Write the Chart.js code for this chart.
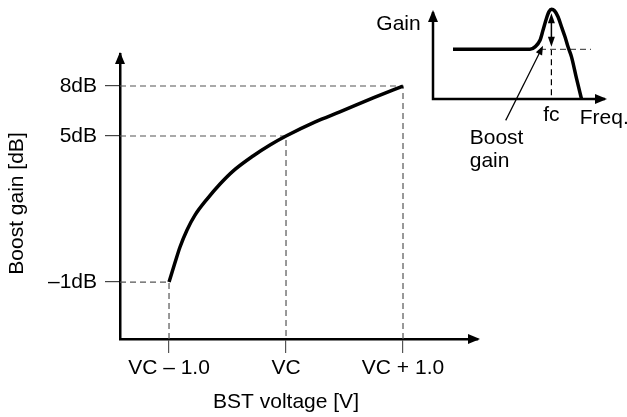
<!DOCTYPE html>
<html>
<head>
<title>Boost gain vs BST voltage</title>
<script src="https://cdn.jsdelivr.net/npm/chart.js"></script>
<style>
    body { margin: 0; background: #fff; }
    #wrap { position: relative; width: 627px; height: 417px; }
    #inset { position: absolute; left: 370px; top: 0; }
</style>
</head>
<body>
<div id="wrap">
    <canvas id="mainChart" width="627" height="417"></canvas>
    <canvas id="inset" width="257" height="180"></canvas>
</div>
<script>
// main curve: BST voltage relative to VC [V] -> boost gain [dB]
var voltage   = [-1, -0.95, -0.906, -0.846, -0.778, -0.675, -0.564, -0.453, -0.282, -0.137, 0, 0.25, 0.46, 0.75, 1];
var boostGain = [-1, -0.22, 0.44, 1.14, 1.75, 2.41, 3.03, 3.56, 4.18, 4.63, 5, 5.85, 6.45, 7.3, 8];
var keyVoltage = [-1, 0, 1];
var keyGain    = [-1, 5, 8];
var xTickLabels = ['VC \u2013 1.0', 'VC', 'VC + 1.0'];
var yTickLabels = ['\u20131dB', '5dB', '8dB'];
var xRange = [-1.419, 1.641];
var yRange = [-3.34, 9.92];

// inset: gain response vs frequency (arbitrary units)
var freq     = [2, 9.7, 10.2, 10.7, 11.0, 11.35, 11.6, 11.85, 12.15, 12.5, 12.85, 13.2, 13.5, 13.85, 14.35, 14.85];
var response = [4.95, 4.95, 5.2, 5.85, 6.85, 8.05, 8.7, 8.95, 8.8, 8.2, 7.2, 6.2, 5.2, 4.2, 2.05, 0];
var fc = 11.84;
var flatGain = 4.95;
var flatGuide = [10.7, 15.8];
var boostSpan = [8.55, 5.2];
var pointer = [[7.27, -2.13], [11.0, 5.3]];
var insetLabels = [
    { text: 'Gain',  x: -1.23, y: 7.47, align: 'right' },
    { text: 'fc',    x: fc,    y: -1.63, align: 'center' },
    { text: 'Freq.', x: 14.67, y: -1.93, align: 'left' },
    { text: 'Boost', x: 3.67,  y: -3.93, align: 'left' },
    { text: 'gain',  x: 3.67,  y: -6.2,  align: 'left' }
];

var FONT = "'Liberation Sans', Arial, Helvetica, sans-serif";
Chart.defaults.font.family = FONT;
Chart.defaults.color = '#000';

// linear scale that is stretched below a knee value (the drawing is not to scale)
class KneeScale extends Chart.LinearScale {
    tv(v) {
        var k = this.options.knee, s = this.options.stretch;
        return v < k ? k - (k - v) * s : v;
    }
    getPixelForValue(v) {
        if (v === null || v === undefined) return NaN;
        var a = this.tv(this.min), b = this.tv(this.max);
        return this.getPixelForDecimal((this.tv(v) - a) / (b - a));
    }
    getValueForPixel(p) {
        var a = this.tv(this.min), b = this.tv(this.max);
        var t = a + this.getDecimalForPixel(p) * (b - a);
        var k = this.options.knee, s = this.options.stretch;
        return t < k ? k - (k - t) / s : t;
    }
}
KneeScale.id = 'knee';
KneeScale.defaults = {};
Chart.register(KneeScale);

function arrowHead(ctx, x, y, angle, len, half) {
    ctx.save();
    ctx.translate(x, y);
    ctx.rotate(angle);
    ctx.beginPath();
    ctx.moveTo(0, 0);
    ctx.lineTo(-len, -half);
    ctx.lineTo(-len, half);
    ctx.closePath();
    ctx.fill();
    ctx.restore();
}

var guideSets = keyVoltage.map(function(v, i) {
    return {
        data: [{ x: xRange[0], y: keyGain[i] }, { x: v, y: keyGain[i] }, { x: v, y: yRange[0] }],
        borderColor: '#555',
        borderWidth: 1.2,
        borderDash: [6, 4],
        pointRadius: 0,
        tension: 0
    };
});

var mainDecor = {
    id: 'mainDecor',
    afterDraw: function(chart) {
        var ctx = chart.ctx, a = chart.chartArea;
        var xs = chart.scales.x;
        ctx.save();
        ctx.fillStyle = '#000';
        arrowHead(ctx, a.left, a.top - 2, -Math.PI / 2, 12, 5);
        arrowHead(ctx, a.right + 2, a.bottom, 0, 12, 5);
        ctx.font = '21px ' + FONT;
        ctx.textAlign = 'center';
        ctx.textBaseline = 'middle';
        ctx.fillText('BST voltage [V]', xs.getPixelForValue(0), 402);
        ctx.translate(17, (a.top + a.bottom) / 2 + 7);
        ctx.rotate(-Math.PI / 2);
        ctx.fillText('Boost gain [dB]', 0, 0);
        ctx.restore();
    }
};

new Chart(document.getElementById('mainChart'), {
    type: 'line',
    data: {
        datasets: [{
            data: voltage.map(function(v, i) { return { x: v, y: boostGain[i] }; }),
            borderColor: '#000',
            borderWidth: 3.5,
            pointRadius: 0,
            cubicInterpolationMode: 'monotone'
        }].concat(guideSets)
    },
    options: {
        responsive: false,
        animation: false,
        events: [],
        layout: { padding: { top: 54, right: 149, bottom: 0, left: 0 } },
        plugins: { legend: { display: false }, tooltip: { enabled: false } },
        scales: {
            x: {
                type: 'linear',
                min: xRange[0],
                max: xRange[1],
                afterFit: function(s) { s.height = 78; },
                afterBuildTicks: function(s) { s.ticks = keyVoltage.map(function(v) { return { value: v }; }); },
                ticks: {
                    callback: function(v, i) { return xTickLabels[i]; },
                    autoSkip: false, maxRotation: 0, padding: 3,
                    color: '#000', font: { size: 21 }
                },
                grid: { drawOnChartArea: false, tickLength: 14, color: '#555', lineWidth: 1.2 },
                border: { color: '#000', width: 2.5 }
            },
            y: {
                type: 'knee',
                knee: 5,
                stretch: 1.46,
                min: yRange[0],
                max: yRange[1],
                afterFit: function(s) { s.width = 120; },
                afterBuildTicks: function(s) { s.ticks = keyGain.map(function(v) { return { value: v }; }); },
                ticks: {
                    callback: function(v, i) { return yTickLabels[i]; },
                    autoSkip: false, padding: 8,
                    color: '#000', font: { size: 21 }
                },
                grid: { drawOnChartArea: false, tickLength: 15, color: '#444', lineWidth: 1.2 },
                border: { color: '#000', width: 2.5 }
            }
        }
    },
    plugins: [mainDecor]
});

// inset chart
var insetDecor = {
    id: 'insetDecor',
    beforeDatasetsDraw: function(chart) {
        var ctx = chart.ctx, a = chart.chartArea;
        ctx.save();
        ctx.strokeStyle = '#000';
        ctx.lineWidth = 2.5;
        ctx.beginPath();
        ctx.moveTo(a.left, a.top + 6);
        ctx.lineTo(a.left, a.bottom);
        ctx.lineTo(a.right, a.bottom);
        ctx.stroke();
        ctx.fillStyle = '#000';
        arrowHead(ctx, a.left, a.top + 4, -Math.PI / 2, 12, 5);
        arrowHead(ctx, a.right + 2, a.bottom, 0, 12, 5);
        ctx.restore();
    },
    afterDraw: function(chart) {
        var ctx = chart.ctx;
        var xs = chart.scales.x, ys = chart.scales.y;
        ctx.save();
        ctx.fillStyle = '#000';
        ctx.strokeStyle = '#000';
        // boost gain double arrow at fc
        var px = xs.getPixelForValue(fc);
        var y1 = ys.getPixelForValue(boostSpan[0]), y2 = ys.getPixelForValue(boostSpan[1]);
        ctx.lineWidth = 1.5;
        ctx.beginPath();
        ctx.moveTo(px, y1 + 8);
        ctx.lineTo(px, y2 - 8);
        ctx.stroke();
        arrowHead(ctx, px, y1, -Math.PI / 2, 10, 3.5);
        arrowHead(ctx, px, y2, Math.PI / 2, 10, 3.5);
        // pointer from label
        var sx = xs.getPixelForValue(pointer[0][0]), sy = ys.getPixelForValue(pointer[0][1]);
        var ex = xs.getPixelForValue(pointer[1][0]), ey = ys.getPixelForValue(pointer[1][1]);
        var ang = Math.atan2(ey - sy, ex - sx);
        ctx.lineWidth = 1.2;
        ctx.beginPath();
        ctx.moveTo(sx, sy);
        ctx.lineTo(ex - 6 * Math.cos(ang), ey - 6 * Math.sin(ang));
        ctx.stroke();
        arrowHead(ctx, ex, ey, ang, 9, 3.5);
        // labels
        ctx.font = '21px ' + FONT;
        ctx.textBaseline = 'middle';
        insetLabels.forEach(function(l) {
            ctx.textAlign = l.align;
            ctx.fillText(l.text, xs.getPixelForValue(l.x), ys.getPixelForValue(l.y));
        });
        ctx.restore();
    }
};

new Chart(document.getElementById('inset'), {
    type: 'line',
    data: {
        datasets: [{
            data: freq.map(function(f, i) { return { x: f, y: response[i] }; }),
            borderColor: '#000',
            borderWidth: 3.5,
            pointRadius: 0,
            cubicInterpolationMode: 'monotone'
        }, {
            data: [{ x: flatGuide[0], y: flatGain }, { x: flatGuide[1], y: flatGain }],
            borderColor: '#555', borderWidth: 1.2, borderDash: [6, 4], pointRadius: 0
        }, {
            data: [{ x: fc, y: flatGain }, { x: fc, y: 0 }],
            borderColor: '#000', borderWidth: 1.2, borderDash: [6, 4], pointRadius: 0
        }]
    },
    options: {
        responsive: false,
        animation: false,
        events: [],
        layout: { padding: { top: 6, right: 22, bottom: 81, left: 63 } },
        plugins: { legend: { display: false }, tooltip: { enabled: false } },
        scales: {
            x: { type: 'linear', display: false, min: 0, max: 17.2 },
            y: { type: 'linear', display: false, min: 0, max: 9.27 }
        }
    },
    plugins: [insetDecor]
});
</script>
</body>
</html>
